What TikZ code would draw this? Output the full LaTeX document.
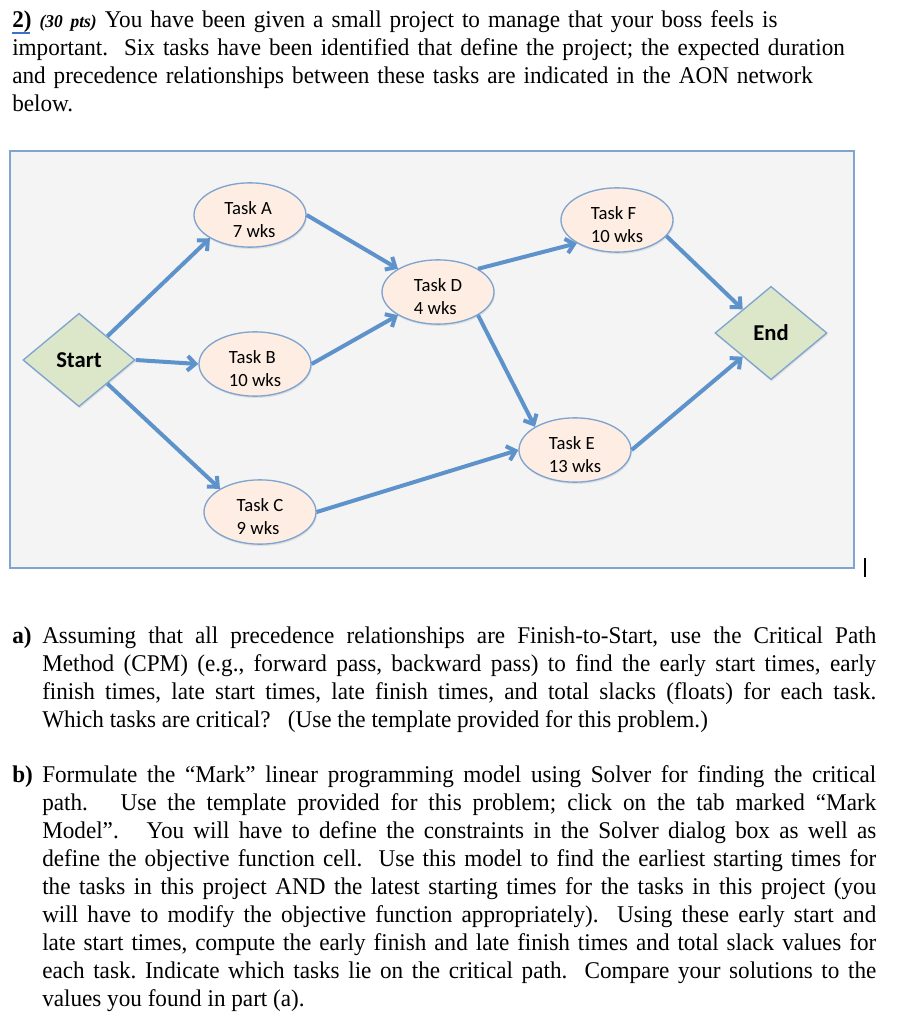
\documentclass[tikz,border=0pt]{standalone}
\usepackage{fontspec}
\setmainfont[FakeStretch=0.965]{Liberation Serif}
\newfontfamily\calib{Carlito}
\usetikzlibrary{arrows.meta,calc,positioning}
\usetikzlibrary{shapes,shapes.geometric,shadows}
\definecolor{arblue}{HTML}{5E92CB}
\definecolor{lnblue}{HTML}{7EA4D0}
\definecolor{peach}{HTML}{FDEDE3}
\definecolor{sage}{HTML}{DCE7CA}
\definecolor{panel}{HTML}{F4F4F4}
\definecolor{ulblue}{HTML}{3C6FD0}
\tikzstyle{ndtask} = [draw=lnblue, line width=1pt, fill=peach, shape=ellipse, minimum width=84pt, minimum height=46.5pt, inner sep=0pt, align=left, font=\calib\fontsize{14}{17}\selectfont, drop shadow={opacity=0.18, shadow xshift=0.6pt, shadow yshift=-1.4pt}]
\tikzstyle{ndgate} = [draw=lnblue, line width=1pt, fill=sage, shape=diamond, minimum width=84pt, minimum height=70pt, inner sep=0pt, font=\calib\bfseries\fontsize{17}{20}\selectfont, drop shadow={opacity=0.18, shadow xshift=0.6pt, shadow yshift=-1.4pt}]
\tikzstyle{arflow} = [style={-{Straight Barb[length=6pt,width=11pt]},line width=3pt,arblue}]
\tikzstyle{txtpara} = [anchor=base west, inner sep=0pt, font=\fontsize{18}{21}\selectfont]
\newcommand{\tasklbl}[2]{\rule{0pt}{17pt}#1\\#2}

\begin{document}
\frenchspacing
\begin{tikzpicture}[x=0.75pt, y=-0.75pt]
	\useasboundingbox (0,0) rectangle (902,1020);
	% question text
	\node[txtpara, text width=660pt, align=left] (intro) at (12,28) {\textbf{2)} {\fontsize{13.5}{21}\selectfont\bfseries\itshape(30 pts)} You have been given a small project to manage that your boss feels is\\
	important.\ \ Six tasks have been identified that define the project; the expected duration\\
	and precedence relationships between these tasks are indicated in the AON network\\
	below.};
	\draw[ulblue, line width=1.2pt] (12,33) -- (30,33);
	% network panel
	\draw[lnblue, line width=1.5pt, fill=panel] (10,151) rectangle (854,568);
	\node[ndgate] (start) at (79,360) {Start};
	\node[ndgate] (end) at (771,333) {End};
	\node[ndtask] (ta) at (250,215) {\tasklbl{Task A}{\hspace*{0.45em}7 wks}};
	\node[ndtask] (tb) at (255,364) {\tasklbl{Task B}{10 wks}};
	\node[ndtask] (tc) at (260,512) {\tasklbl{Task C}{9 wks}};
	\node[ndtask] (td) at (438,292) {\tasklbl{Task D}{4 wks}};
	\node[ndtask] (te) at (575,450) {\tasklbl{Task E}{13 wks}};
	\node[ndtask] (tf) at (617,220) {\tasklbl{Task F}{10 wks}};
	\draw[arflow] (start.north east) to (ta.south west);
	\draw[arflow] (start.east) to (tb.west);
	\draw[arflow] (start.south east) to (tc.north west);
	\draw[arflow] (ta.east) to (td.north west);
	\draw[arflow] (tb.east) to (td.south west);
	\draw[arflow] (tc.east) to (te.west);
	\draw[arflow] (td.north east) to (tf.south west);
	\draw[arflow] (td.south east) to (te.north west);
	\draw[arflow] (tf.-18) to (end.north west);
	\draw[arflow] (te.east) to (end.south west);
	\draw[line width=1.5pt] (865,558) -- (865,577);
	% part a
	\node[txtpara] (pa) at (12,643) {\textbf{a)}};
	\node[txtpara, text width=625.5pt, align=justify] (pat) at (42,643) {Assuming that all precedence relationships are Finish-to-Start, use the Critical Path\linebreak
	Method (CPM) (e.g., forward pass, backward pass) to find the early start times, early\linebreak
	finish times, late start times, late finish times, and total slacks (floats) for each task.\linebreak
	Which tasks are critical?\ \ \ (Use the template provided for this problem.)};
	% part b
	\node[txtpara] (pb) at (12,782) {\textbf{b)}};
	\node[txtpara, text width=625.5pt, align=justify] (pbt) at (42,782) {Formulate the “Mark” linear programming model using Solver for finding the critical\linebreak
	path.\ \ \ Use the template provided for this problem; click on the tab marked “Mark\linebreak
	Model”.\ \ \ You will have to define the constraints in the Solver dialog box as well as\linebreak
	define the objective function cell.\ \ Use this model to find the earliest starting times for\linebreak
	the tasks in this project AND the latest starting times for the tasks in this project (you\linebreak
	will have to modify the objective function appropriately).\ \ Using these early start and\linebreak
	late start times, compute the early finish and late finish times and total slack values for\linebreak
	each task. Indicate which tasks lie on the critical path.\ \ Compare your solutions to the\linebreak
	values you found in part (a).};
\end{tikzpicture}
\end{document}
